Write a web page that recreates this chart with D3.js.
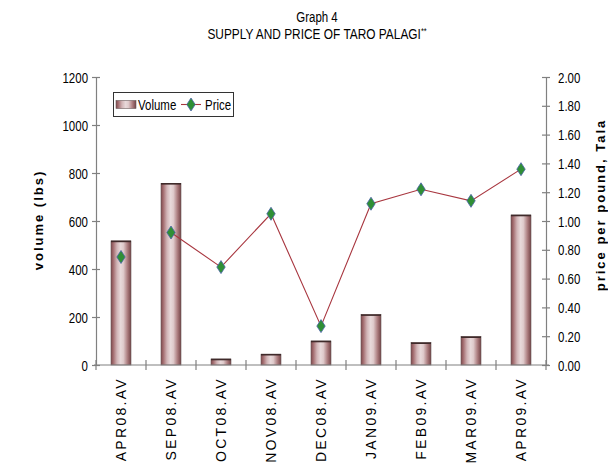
<!DOCTYPE html>
<html>
<head>
<meta charset="utf-8">
<script src="https://cdn.jsdelivr.net/npm/d3@7/dist/d3.min.js"></script>
<style>
  html, body { margin: 0; padding: 0; background: #fff; }
  svg { display: block; }
</style>
</head>
<body>
<svg id="chart" width="608" height="464"></svg>
<script>
const categories = ["APR08.AV","SEP08.AV","OCT08.AV","NOV08.AV","DEC08.AV","JAN09.AV","FEB09.AV","MAR09.AV","APR09.AV"];
const volume = [517, 757, 25, 45, 100, 210, 93, 118, 625];
const price = [0.75, 0.92, 0.68, 1.05, 0.27, 1.12, 1.22, 1.14, 1.36];
// the price line is not drawn into the first month
const priceLineStart = "SEP08.AV";
const volumeTicks = [0, 200, 400, 600, 800, 1000, 1200];
const priceTicks = [0, 0.2, 0.4, 0.6, 0.8, 1.0, 1.2, 1.4, 1.6, 1.8, 2.0];

const SANS = "'Liberation Sans',Arial,sans-serif";
const NX = 0.82; // horizontal squeeze to imitate a narrow face

const svg = d3.select("#chart");
const L = 96, R = 546, T = 77, B = 365;

const x = d3.scaleBand().domain(categories).range([L, R]).paddingInner(0).paddingOuter(0);
const yL = d3.scaleLinear().domain([0, 1200]).range([B, T]);
const yR = d3.scaleLinear().domain([0, 2]).range([B, T]);

function narrow(parent, tx, ty, size, anchor, str) {
  return parent.append("text")
    .attr("transform", `translate(${tx},${ty}) scale(${NX},1)`)
    .attr("text-anchor", anchor).attr("font-family", SANS).attr("font-size", size)
    .attr("fill", "#000").text(str);
}

// gradient
const defs = svg.append("defs");
const g = defs.append("linearGradient").attr("id", "barGrad").attr("x1", "0").attr("x2", "1").attr("y1", "0").attr("y2", "0");
[[0, "#80494c"], [0.12, "#a46f72"], [0.3, "#d2b5b7"], [0.48, "#e8d9da"], [0.62, "#dfcacb"], [0.82, "#ad7e80"], [1, "#744447"]]
  .forEach(([o, c]) => g.append("stop").attr("offset", o).attr("stop-color", c));

// Title
narrow(svg, 317, 22, 14, "middle", "Graph 4");
const t2 = narrow(svg, 317, 39, 14.5, "middle", "");
t2.append("tspan").text("SUPPLY AND PRICE OF TARO PALAGI");
t2.append("tspan").attr("font-size", 9).attr("dy", -5).text("**");

// Bars
const bw = x.bandwidth() * 0.4;
const bars = svg.append("g");
categories.forEach((c, i) => {
  const cx = x(c) + x.bandwidth() / 2;
  bars.append("rect")
    .attr("x", cx - bw / 2).attr("y", yL(volume[i]))
    .attr("width", bw).attr("height", yL(0) - yL(volume[i]))
    .attr("fill", "url(#barGrad)")
    .attr("stroke", "#6a5a5a").attr("stroke-width", 0.6);
  bars.append("line")
    .attr("x1", cx - bw / 2).attr("x2", cx + bw / 2)
    .attr("y1", yL(volume[i]) + 0.5).attr("y2", yL(volume[i]) + 0.5)
    .attr("stroke", "#3f2a2a").attr("stroke-width", 1.6);
});

// Axes
const axisColor = "#808080";
// left
const gl = svg.append("g").attr("transform", `translate(${L},0)`)
  .call(d3.axisLeft(yL).tickValues(volumeTicks).tickSize(0).tickPadding(8).tickFormat(d3.format("d")));
gl.select(".domain").attr("stroke", axisColor).attr("stroke-width", 1.2);
gl.selectAll(".tick").append("line").attr("x1", -4).attr("x2", 4).attr("stroke", axisColor).attr("stroke-width", 1.2);
gl.selectAll("text").attr("font-family", SANS).attr("font-size", 14).attr("fill", "#000").attr("dy", "0.36em")
  .attr("x", -8 / NX).attr("transform", `scale(${NX},1)`);

// right
const gr = svg.append("g").attr("transform", `translate(${R},0)`)
  .call(d3.axisRight(yR).tickValues(priceTicks).tickSize(0).tickPadding(11).tickFormat(d3.format(".2f")));
gr.select(".domain").attr("stroke", axisColor).attr("stroke-width", 1.2);
gr.selectAll(".tick").append("line").attr("x1", -4).attr("x2", 4).attr("stroke", axisColor).attr("stroke-width", 1.2);
gr.selectAll("text").attr("font-family", SANS).attr("font-size", 14).attr("fill", "#000").attr("dy", "0.36em")
  .attr("x", 12 / NX).attr("transform", `scale(${NX},1)`);

// bottom
const gb = svg.append("g");
gb.append("line").attr("x1", L - 2).attr("x2", R + 3).attr("y1", B).attr("y2", B).attr("stroke", axisColor).attr("stroke-width", 1.2);
const bounds = categories.map(c => x(c)).concat([x.range()[1]]);
gb.selectAll(".bt").data(bounds).join("line")
  .attr("x1", d => d).attr("x2", d => d).attr("y1", B - 5).attr("y2", B + 5)
  .attr("stroke", axisColor).attr("stroke-width", 1.2);
gb.selectAll(".bl").data(categories).join("text")
  .attr("transform", d => `translate(${x(d) + x.bandwidth() / 2},377) rotate(-90)`)
  .attr("text-anchor", "end").attr("dy", "0.36em")
  .attr("font-family", SANS).attr("font-size", 14).attr("letter-spacing", 2.3)
  .attr("fill", "#000").text(d => d);

// axis titles
svg.append("text").attr("transform", "translate(38,220) rotate(-90)")
  .attr("text-anchor", "middle").attr("dy", "0.36em")
  .attr("font-family", SANS).attr("font-weight", "bold").attr("font-size", 13).attr("letter-spacing", 2)
  .text("volume (lbs)");
svg.append("text").attr("transform", "translate(600,205) rotate(-90)")
  .attr("text-anchor", "middle").attr("dy", "0.36em")
  .attr("font-family", SANS).attr("font-weight", "bold").attr("font-size", 13).attr("letter-spacing", 2)
  .text("price per pound, Tala");

// price line
const pts = categories.map((c, i) => ({ c, v: price[i], i }));
const startIdx = categories.indexOf(priceLineStart);
const line = d3.line()
  .defined(d => d.i >= startIdx)
  .x(d => x(d.c) + x.bandwidth() / 2)
  .y(d => yR(d.v));
svg.append("path").datum(pts).attr("d", line)
  .attr("fill", "none").attr("stroke", "#a8363f").attr("stroke-width", 1.1);

const diamond = "M0,-6.5L4.2,0L0,6.5L-4.2,0Z";
svg.append("g").selectAll("path").data(pts).join("path")
  .attr("transform", d => `translate(${x(d.c) + x.bandwidth() / 2},${yR(d.v)})`)
  .attr("d", diamond).attr("fill", "#2f8f35").attr("stroke", "#4a62a8").attr("stroke-width", 0.8);

// legend
const lg = svg.append("g");
lg.append("rect").attr("x", 113.5).attr("y", 92.5).attr("width", 120).attr("height", 24)
  .attr("fill", "#fff").attr("stroke", "#333").attr("stroke-width", 1);
lg.append("rect").attr("x", 116).attr("y", 100.5).attr("width", 20).attr("height", 8)
  .attr("fill", "url(#barGrad)").attr("stroke", "#6a5a5a").attr("stroke-width", 0.6);
narrow(lg, 138, 110, 14, "start", "Volume");
lg.append("line").attr("x1", 181).attr("x2", 201).attr("y1", 104.5).attr("y2", 104.5).attr("stroke", "#a8363f").attr("stroke-width", 1.1);
lg.append("path").attr("transform", "translate(191,104.5)").attr("d", diamond)
  .attr("fill", "#2f8f35").attr("stroke", "#4a62a8").attr("stroke-width", 0.8);
narrow(lg, 205, 110, 14, "start", "Price");
</script>
</body>
</html>
